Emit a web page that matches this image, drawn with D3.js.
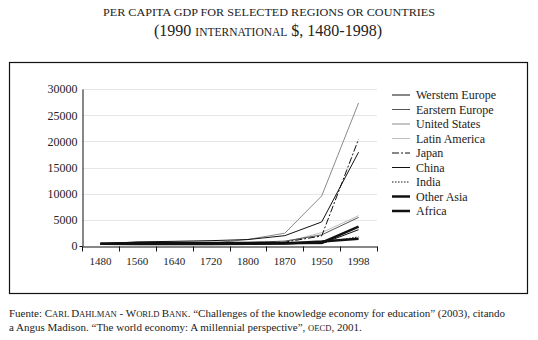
<!DOCTYPE html>
<html><head><meta charset="utf-8">
<script src="https://cdn.jsdelivr.net/npm/d3@7/dist/d3.min.js"></script>
<style>body{margin:0;background:#fff}svg{display:block}text{font-family:"Liberation Serif","Times New Roman",serif;fill:#222}</style>
</head><body><svg id="c" width="538" height="340"></svg>
<script>
const years = ["1480","1560","1640","1720","1800","1870","1950","1998"];
const yTicks = [0,5000,10000,15000,20000,25000,30000];
const seriesNames = ["Werstem Europe","Earstern Europe","United States","Latin America","Japan","China","India","Other Asia","Africa"];
const westernEurope = [400,774,894,1024,1232,1974,4594,17921];
const easternEurope = [400,462,516,566,683,937,2120,5461];
const unitedStates  = [400,400,400,527,1257,2445,9561,27331];
const latinAmerica  = [400,416,437,529,665,698,2554,5795];
const japan         = [425,500,520,570,669,737,1921,20413];
const china         = [450,600,600,600,600,530,439,3117];
const india         = [450,550,550,550,533,533,619,1746];
const otherAsia     = [450,565,565,565,575,543,635,3700];
const africa        = [416,400,400,400,420,500,852,1368];

const values = [westernEurope,easternEurope,unitedStates,latinAmerica,japan,china,india,otherAsia,africa];
const styles = [
 {c:"#111",w:1,d:null},
 {c:"#555",w:1,d:null},
 {c:"#8a8a8a",w:1,d:null},
 {c:"#bdbdbd",w:1,d:null},
 {c:"#111",w:1,d:"7,2,2,2"},
 {c:"#111",w:1,d:null},
 {c:"#111",w:1,d:"1.5,1.5"},
 {c:"#111",w:2.5,d:null},
 {c:"#111",w:2.5,d:null}
];
const SERIF = '"Liberation Serif","Times New Roman",serif';

const svg = d3.select("#c");
// frame
svg.append("rect").attr("x",9.5).attr("y",62.5).attr("width",518).attr("height",231)
  .attr("fill","none").attr("stroke","#111").attr("stroke-width",1.2);

// titles
svg.append("text").attr("x",269).attr("y",16).attr("text-anchor","middle")
  .attr("font-size",11.3).attr("textLength",332).attr("lengthAdjust","spacingAndGlyphs")
  .text("PER CAPITA GDP FOR SELECTED REGIONS OR COUNTRIES");
const st = svg.append("text").attr("x",268).attr("y",36).attr("text-anchor","middle").attr("font-size",16);
st.append("tspan").text("(1990 ");
st.append("tspan").attr("font-size",11.5).text("INTERNATIONAL");
st.append("tspan").text(" $, 1480-1998)");

const x = d3.scaleBand().domain(years).range([82,377]).padding(0);
const y = d3.scaleLinear().domain([0,30000]).range([246,89]);

// gridlines
svg.append("g").selectAll("line").data(yTicks.filter(d=>d>0)).join("line")
  .attr("x1",82).attr("x2",377).attr("y1",d=>Math.round(y(d))+0.5).attr("y2",d=>Math.round(y(d))+0.5)
  .attr("stroke","#e6e6e6").attr("stroke-width",1);

// y axis
const ya = svg.append("g").attr("transform","translate(82.5,0)")
  .call(d3.axisLeft(y).tickValues(yTicks).tickSize(0).tickPadding(5).tickFormat(d3.format("d")));
ya.attr("font-family",null);
ya.select(".domain").attr("stroke","#111");
ya.selectAll("text").style("font-size","12px").style("font-family",SERIF).attr("fill","#222");
ya.append("line").attr("x1",-3).attr("x2",0).attr("y1",Math.round(y(0))+0.5).attr("y2",Math.round(y(0))+0.5).attr("stroke","#111");

// x axis
const xa = svg.append("g").attr("transform","translate(0,246.5)")
  .call(d3.axisBottom(x).tickSize(0).tickPadding(11));
xa.attr("font-family",null);
xa.select(".domain").attr("stroke","#111");
xa.selectAll("text").style("font-size","11px").style("font-family",SERIF).attr("fill","#222");
const bounds = years.map(d=>x(d)).concat([x.range()[1]]);
xa.append("g").selectAll("line").data(bounds).join("line")
  .attr("x1",d=>Math.round(d)+0.5).attr("x2",d=>Math.round(d)+0.5).attr("y1",0).attr("y2",5)
  .attr("stroke","#111");

// lines
const line = d3.line().x((d,i)=>x(years[i])+x.bandwidth()/2).y(d=>y(d));
const order = [3,2,1,0,5,6,4,7,8];
svg.append("g").selectAll("path").data(order).join("path")
  .attr("d",i=>line(values[i])).attr("fill","none")
  .attr("stroke",i=>styles[i].c).attr("stroke-width",i=>styles[i].w)
  .attr("stroke-dasharray",i=>styles[i].d);

// legend
const lg = svg.append("g").selectAll("g").data(seriesNames).join("g")
  .attr("transform",(d,i)=>`translate(0,${95+i*14.5})`);
lg.append("line").attr("x1",392).attr("x2",410).attr("y1",0).attr("y2",0)
  .attr("stroke",(d,i)=>styles[i].c).attr("stroke-width",(d,i)=>styles[i].w)
  .attr("stroke-dasharray",(d,i)=>styles[i].d);
lg.append("text").attr("x",416).attr("y",4).style("font-size","12px").style("font-family",SERIF).text(d=>d);

// footer
const f1 = svg.append("text").attr("x",9).attr("y",317).attr("font-size",11.0);
f1.append("tspan").text("Fuente: C");
f1.append("tspan").attr("font-size",8.6).text("ARL ");
f1.append("tspan").text("D");
f1.append("tspan").attr("font-size",8.6).text("AHLMAN");
f1.append("tspan").text(" - W");
f1.append("tspan").attr("font-size",8.6).text("ORLD ");
f1.append("tspan").text("B");
f1.append("tspan").attr("font-size",8.6).text("ANK");
f1.append("tspan").text(". \u201cChallenges of the knowledge economy for education\u201d (2003), citando");
const f2 = svg.append("text").attr("x",9).attr("y",331).attr("font-size",11.0);
f2.append("tspan").text("a Angus Madison. \u201cThe world economy: A millennial perspective\u201d, ");
f2.append("tspan").attr("font-size",8.6).text("OECD");
f2.append("tspan").text(", 2001.");
</script></body></html>
